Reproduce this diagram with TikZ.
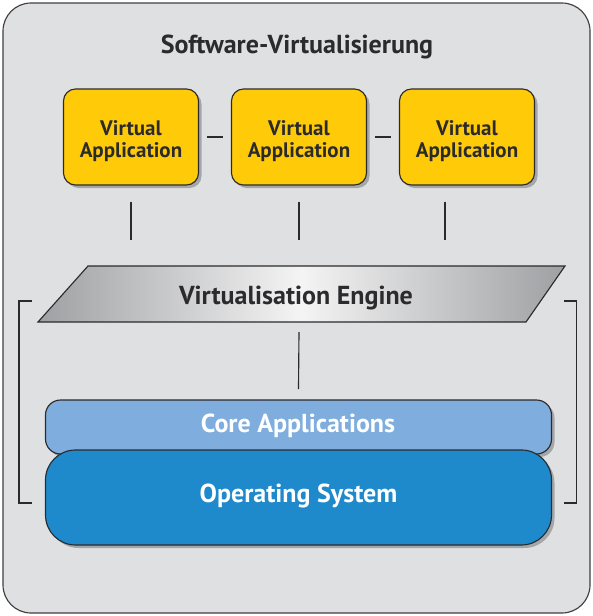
\documentclass[tikz,border=0pt]{standalone}
\usepackage{fontspec}
\setmainfont{PT Sans}
\usetikzlibrary{calc,shadows}

\definecolor{panelGray}{HTML}{DFE0E2}
\definecolor{lineDark}{HTML}{2B2A2C}
\definecolor{appYellow}{HTML}{FFCB08}
\definecolor{coreBlue}{HTML}{7FADDD}
\definecolor{osBlue}{HTML}{1E8ACB}
\definecolor{shadowGray}{HTML}{A5A6A9}
\definecolor{engineDark}{HTML}{9FA0A3}
\definecolor{engineLight}{HTML}{F4F4F4}

\tikzset{
	boxshadow/.style={drop shadow={shadow xshift=3pt, shadow yshift=-3pt, fill=shadowGray, opacity=1}},
	appbox/.style={draw=lineDark, line width=0.4mm, fill=appYellow, rounded corners=12pt,
		minimum width=135pt, minimum height=96pt, boxshadow},
	apptext/.style={align=center, text=lineDark, font=\bfseries\fontsize{21}{22.5}\selectfont},
	layerbox/.style={draw=lineDark, line width=0.4mm, minimum width=506pt, boxshadow},
	bigtext/.style={font=\bfseries\fontsize{26}{28}\selectfont, anchor=base},
	link/.style={line width=0.4mm, color=lineDark},
	bracket/.style={line width=0.4mm, color=lineDark}
}

\begin{document}
\begin{tikzpicture}[x=1pt, y=-1pt]
		%%%%% START %%%%%
		\useasboundingbox (0, 0) rectangle (593, 616);
		
		\draw[line width=0.4mm, color=lineDark!90, fill=panelGray, rounded corners=28pt] (3, 3) rectangle (590, 613);
		\node[bigtext, text=lineDark] (title) at (297, 53) {Software-Virtualisierung};
		
		% the three applications
		\node[appbox] (app1) at (131, 137) {};
		\node[appbox] (app2) at (299, 137) {};
		\node[appbox] (app3) at (467, 137) {};
		\node[apptext] (app1text) at ($(app1)+(0, 4)$) {Virtual\\Application};
		\node[apptext] (app2text) at ($(app2)+(0, 4)$) {Virtual\\Application};
		\node[apptext] (app3text) at ($(app3)+(0, 4)$) {Virtual\\Application};
		\draw[link, shorten <=8pt, shorten >=8pt] (app1) -- (app2);
		\draw[link, shorten <=8pt, shorten >=8pt] (app2) -- (app3);
		
		% engine
		\coordinate (engTL) at (88, 266);
		\coordinate (engTR) at (565, 266);
		\coordinate (engBR) at (526, 322);
		\coordinate (engBL) at (38, 322);
		\draw[line width=0.4mm, color=lineDark, left color=engineDark, right color=engineDark, middle color=engineLight]
			(engTL) -- (engTR) -- (engBR) -- (engBL) -- cycle;
		\node[bigtext, text=lineDark] (engine) at (296, 304) {Virtualisation Engine};
		
		\draw[link] ($(app1.south)+(0, 16)$) -- ($(app1.south)+(0, 54)$);
		\draw[link] ($(app2.south)+(0, 16)$) -- ($(app2.south)+(0, 54)$);
		\draw[link] ($(app3.south)+(-22, 16)$) -- ($(app3.south)+(-22, 54)$);
		
		% host layers
		\node[layerbox, fill=coreBlue, rounded corners=15pt, minimum height=54pt] (core) at (298.5, 427) {};
		\node[layerbox, fill=osBlue, rounded corners=30pt, minimum height=95pt] (os) at (298.5, 497.5) {};
		\node[bigtext, text=white] (coretext) at (298, 432) {Core Applications};
		\node[bigtext, text=white] (ostext) at (298.5, 502) {Operating System};
		\draw[link] (299, 332) -- (core.north |- 0, 389);
		
		% brackets
		\draw[bracket] (31.5, 301) -- (19, 301) -- (19, 503) -- (31.5, 503);
		\draw[bracket] (564, 301) -- (576.5, 301) -- (576.5, 503) -- (564, 503);
		%%%%% END %%%%%
	\end{tikzpicture}
\end{document}
